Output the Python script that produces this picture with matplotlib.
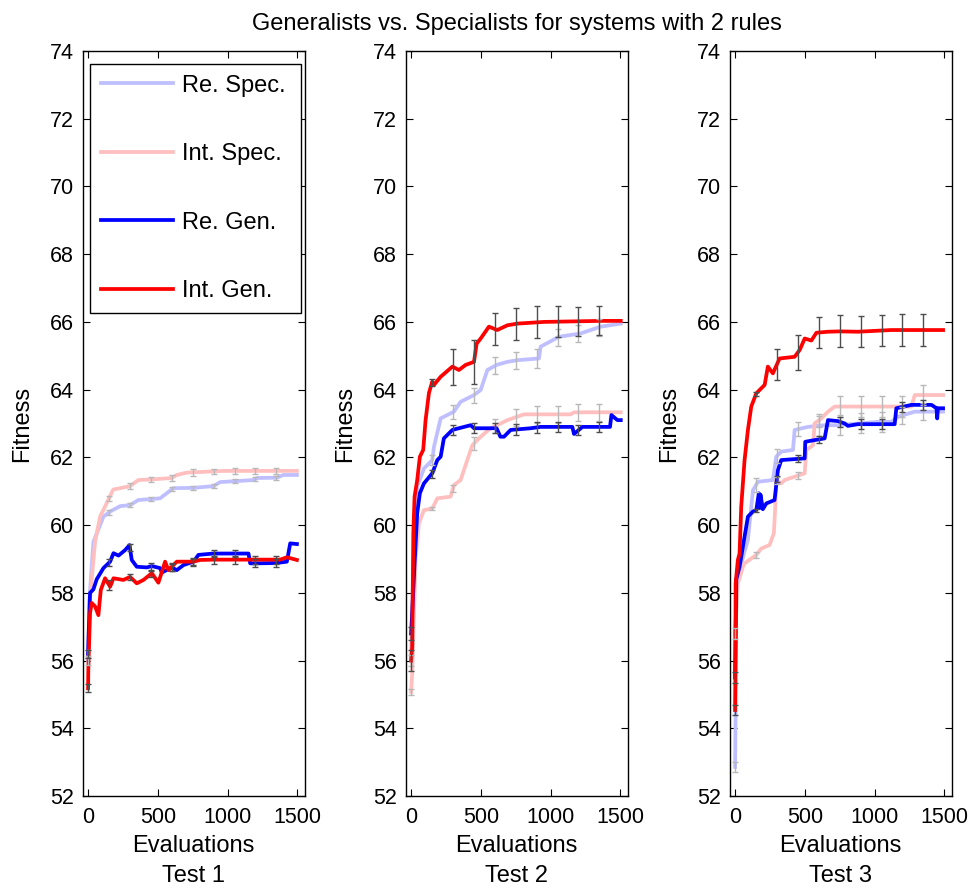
import numpy as np
import matplotlib
matplotlib.use("Agg")
import matplotlib.pyplot as plt

plt.rcParams['font.family'] = ['Liberation Sans', 'DejaVu Sans']

# ---------------- data ----------------
title = "Generalists vs. Specialists for systems with 2 rules"
test_labels = ["Test 1", "Test 2", "Test 3"]
series_names = ["Re. Spec.", "Int. Spec.", "Re. Gen.", "Int. Gen."]
yticks = [52, 54, 56, 58, 60, 62, 64, 66, 68, 70, 72, 74]
xticks = [0, 500, 1000, 1500]
err_x = [0, 150, 300, 450, 600, 750, 900, 1050, 1200, 1350]

# Test 1
t1_re_spec_x = [0, 10, 38, 110, 158, 230, 301, 360, 516, 564, 610, 756, 898, 947, 1186, 1210, 1353, 1400, 1497]
t1_re_spec_y = [56.0, 57.8, 59.5, 60.25, 60.4, 60.56, 60.59, 60.74, 60.79, 60.94, 61.09, 61.1, 61.15, 61.27, 61.33, 61.39, 61.4, 61.48, 61.48]
t1_int_spec_x = [0, 10, 26, 50, 86, 122, 180, 301, 360, 457, 600, 636, 708, 970, 1497]
t1_int_spec_y = [56.2, 57.6, 58.4, 59.5, 60.25, 60.55, 61.05, 61.15, 61.33, 61.35, 61.39, 61.48, 61.55, 61.6, 61.6]
t1_re_gen_x = [0, 14, 38, 62, 110, 158, 182, 218, 265, 297, 313, 349, 421, 457, 516, 529, 600, 636, 684, 756, 791, 898, 1047, 1150, 1162, 1203, 1349, 1425, 1449, 1497]
t1_re_gen_y = [56.2, 58.0, 58.1, 58.4, 58.73, 58.92, 59.17, 59.1, 59.26, 59.41, 58.97, 58.77, 58.75, 58.79, 58.73, 58.6, 58.75, 58.67, 58.82, 58.92, 59.12, 59.16, 59.16, 59.16, 58.87, 58.87, 58.88, 58.92, 59.46, 59.44]
t1_int_gen_x = [0, 2, 14, 26, 50, 74, 91, 122, 158, 182, 253, 301, 349, 397, 457, 504, 529, 552, 576, 636, 756, 803, 898, 1138, 1377, 1425, 1497]
t1_int_gen_y = [55.18, 55.8, 57.4, 57.7, 57.6, 57.34, 58.08, 58.43, 58.18, 58.43, 58.38, 58.47, 58.28, 58.38, 58.58, 58.3, 58.62, 58.92, 58.67, 58.92, 58.92, 58.97, 58.98, 58.98, 58.98, 59.05, 58.97]

# Test 2
t2_re_spec_x = [0, 8, 25, 44, 92, 152, 164, 212, 307, 355, 451, 499, 547, 613, 690, 762, 917, 929, 1060, 1216, 1359, 1503]
t2_re_spec_y = [56.0, 57.5, 59.8, 61.13, 61.67, 61.92, 62.31, 63.15, 63.35, 63.64, 63.84, 63.99, 64.58, 64.73, 64.82, 64.87, 64.92, 65.27, 65.56, 65.66, 65.86, 65.95]
t2_int_spec_x = [0, 8, 32, 56, 92, 152, 188, 283, 307, 355, 403, 439, 499, 570, 642, 690, 809, 1144, 1168, 1503]
t2_int_spec_y = [55.07, 55.62, 58.97, 60.05, 60.44, 60.49, 60.79, 60.84, 61.18, 61.33, 61.92, 62.36, 62.61, 62.86, 63.0, 63.1, 63.27, 63.27, 63.33, 63.33]
t2_re_gen_x = [0, 8, 25, 44, 63, 92, 152, 188, 212, 235, 296, 427, 451, 613, 640, 666, 714, 857, 929, 1156, 1168, 1228, 1359, 1426, 1436, 1479, 1503]
t2_re_gen_y = [56.8, 57.4, 58.87, 60.35, 60.94, 61.23, 61.53, 61.92, 62.02, 62.56, 62.81, 62.95, 62.86, 62.86, 62.61, 62.61, 62.81, 62.86, 62.9, 62.9, 62.69, 62.9, 62.9, 62.9, 63.25, 63.1, 63.1]
t2_int_gen_x = [0, 8, 16, 25, 44, 63, 87, 104, 128, 152, 164, 212, 296, 343, 391, 451, 470, 499, 558, 618, 690, 762, 953, 1359, 1503]
t2_int_gen_y = [56.0, 56.4, 59.76, 60.84, 61.33, 62.02, 62.22, 63.1, 63.9, 64.24, 64.14, 64.38, 64.68, 64.58, 64.73, 64.82, 65.36, 65.51, 65.86, 65.76, 65.9, 65.95, 66.0, 66.03, 66.03]

# Test 3
t3_re_spec_x = [0, 4, 9, 44, 92, 128, 164, 271, 295, 331, 415, 427, 522, 642, 738, 1025, 1120, 1168, 1288, 1491]
t3_re_spec_y = [52.86, 54.5, 58.4, 58.87, 59.56, 61.03, 61.28, 61.33, 62.02, 62.17, 62.22, 62.81, 62.9, 62.95, 62.95, 63.05, 63.05, 63.2, 63.35, 63.35]
t3_int_spec_x = [0, 20, 56, 68, 152, 188, 247, 278, 288, 295, 331, 355, 427, 499, 511, 559, 570, 618, 666, 714, 1264, 1288, 1491]
t3_int_spec_y = [56.8, 58.28, 58.77, 58.87, 59.12, 59.31, 59.41, 59.76, 60.54, 61.33, 61.23, 61.33, 61.43, 61.53, 62.22, 62.36, 63.0, 63.15, 63.35, 63.5, 63.5, 63.84, 63.84]
t3_re_gen_x = [0, 9, 32, 68, 92, 128, 152, 170, 176, 182, 199, 224, 283, 307, 331, 499, 503, 570, 642, 666, 738, 786, 809, 881, 1144, 1156, 1264, 1408, 1444, 1449, 1454, 1491]
t3_re_gen_y = [55.5, 58.4, 58.77, 59.66, 60.25, 60.4, 60.44, 60.94, 60.5, 60.9, 60.47, 60.64, 60.74, 61.62, 61.92, 61.97, 62.46, 62.51, 62.56, 63.1, 63.07, 63.0, 62.93, 62.98, 62.98, 63.45, 63.55, 63.55, 63.45, 63.15, 63.45, 63.45]
t3_int_gen_x = [0, 2, 4, 20, 32, 44, 68, 92, 116, 152, 188, 212, 235, 271, 319, 427, 463, 499, 547, 583, 666, 750, 881, 1120, 1491]
t3_int_gen_y = [54.54, 55.42, 58.28, 58.97, 59.16, 60.54, 61.92, 62.81, 63.5, 63.89, 64.04, 64.14, 64.68, 64.48, 64.92, 64.97, 65.17, 65.51, 65.45, 65.68, 65.71, 65.72, 65.71, 65.76, 65.76]

# error bar half-widths at err_x
t1_re_spec_err = [0.12, 0.08, 0.06, 0.06, 0.06, 0.06, 0.06, 0.06, 0.06, 0.06]
t1_int_spec_err = [0.12, 0.08, 0.08, 0.08, 0.08, 0.1, 0.08, 0.08, 0.08, 0.08]
t1_re_gen_err = [0.12, 0.1, 0.1, 0.1, 0.1, 0.1, 0.1, 0.1, 0.12, 0.12]
t1_int_gen_err = [0.12, 0.15, 0.1, 0.1, 0.12, 0.12, 0.12, 0.12, 0.12, 0.12]
t2_re_spec_err = [0.15, 0.15, 0.2, 0.22, 0.25, 0.25, 0.28, 0.25, 0.25, 0.25]
t2_int_spec_err = [0.1, 0.05, 0.1, 0.2, 0.2, 0.25, 0.25, 0.25, 0.25, 0.25]
t2_re_gen_err = [0.2, 0.12, 0.15, 0.15, 0.15, 0.15, 0.15, 0.15, 0.15, 0.15]
t2_int_gen_err = [0.3, 0.1, 0.52, 0.64, 0.48, 0.47, 0.47, 0.45, 0.43, 0.43]
t3_re_spec_err = [0.15, 0.2, 0.2, 0.2, 0.3, 0.3, 0.3, 0.3, 0.25, 0.25]
t3_int_spec_err = [0.15, 0.1, 0.1, 0.1, 0.2, 0.3, 0.3, 0.3, 0.3, 0.3]
t3_re_gen_err = [0.15, 0.05, 0.1, 0.1, 0.1, 0.15, 0.15, 0.15, 0.15, 0.15]
t3_int_gen_err = [0.15, 0.05, 0.45, 0.52, 0.45, 0.47, 0.45, 0.47, 0.47, 0.47]

panels = [
    [(t1_re_spec_x, t1_re_spec_y, t1_re_spec_err), (t1_int_spec_x, t1_int_spec_y, t1_int_spec_err),
     (t1_re_gen_x, t1_re_gen_y, t1_re_gen_err), (t1_int_gen_x, t1_int_gen_y, t1_int_gen_err)],
    [(t2_re_spec_x, t2_re_spec_y, t2_re_spec_err), (t2_int_spec_x, t2_int_spec_y, t2_int_spec_err),
     (t2_re_gen_x, t2_re_gen_y, t2_re_gen_err), (t2_int_gen_x, t2_int_gen_y, t2_int_gen_err)],
    [(t3_re_spec_x, t3_re_spec_y, t3_re_spec_err), (t3_int_spec_x, t3_int_spec_y, t3_int_spec_err),
     (t3_re_gen_x, t3_re_gen_y, t3_re_gen_err), (t3_int_gen_x, t3_int_gen_y, t3_int_gen_err)],
]

# ---------------- style ----------------
line_colors = [(0.75, 0.75, 1.0), (1.0, 0.75, 0.75), (0.0, 0.0, 1.0), (1.0, 0.0, 0.0)]
err_colors = [(0.72, 0.72, 0.72), (0.72, 0.72, 0.72), (0.3, 0.3, 0.3), (0.3, 0.3, 0.3)]
FS_TICK = 15.5
FS_LABEL = 17

fig = plt.figure(figsize=(9.71, 8.90), dpi=100)
lefts = [82.5, 405.5, 729.5]
W, H = 971.0, 890.0
axes = []
for i, lx in enumerate(lefts):
    ax = fig.add_axes([lx / W, (H - 796) / H, 222.5 / W, 745 / H])
    axes.append(ax)
    for k, (xs, ys, es) in enumerate(panels[i]):
        ax.plot(xs, ys, color=line_colors[k], lw=2.7, label=series_names[k], zorder=2 + k)
    for k, (xs, ys, es) in enumerate(panels[i]):
        yc = np.interp(err_x, xs, ys)
        ax.errorbar(err_x, yc, yerr=es, fmt='none', ecolor=err_colors[k], elinewidth=1.0,
                    capsize=2, capthick=1.0, zorder=6 + k)
    ax.set_xlim(-40, 1555)
    ax.set_ylim(52, 74)
    ax.set_xticks(xticks)
    ax.set_yticks(yticks)
    ax.tick_params(direction='in', top=True, right=True, length=5, width=0.8,
                   labelsize=FS_TICK)
    ax.tick_params(axis='x', pad=8)
    ax.tick_params(axis='y', pad=6)
    for s in ax.spines.values():
        s.set_linewidth(1.0)
    ax.set_xlabel("Evaluations\n" + test_labels[i], fontsize=FS_LABEL, linespacing=1.45, labelpad=5)
    ax.set_ylabel("Fitness", fontsize=FS_LABEL, labelpad=12)

axes[1].set_title(title, fontsize=FS_LABEL, pad=15)

leg = axes[0].legend(loc='upper left', bbox_to_anchor=(0.034, 0.9826, 0.948, 0.0), mode='expand',
                     borderaxespad=0.0, fontsize=FS_LABEL, labelspacing=1.97, handlelength=3.05,
                     handletextpad=0.38, borderpad=0.45, fancybox=False, framealpha=1.0,
                     edgecolor='black')
leg.get_frame().set_linewidth(1.0)

fig.savefig("out.png", dpi=100)
